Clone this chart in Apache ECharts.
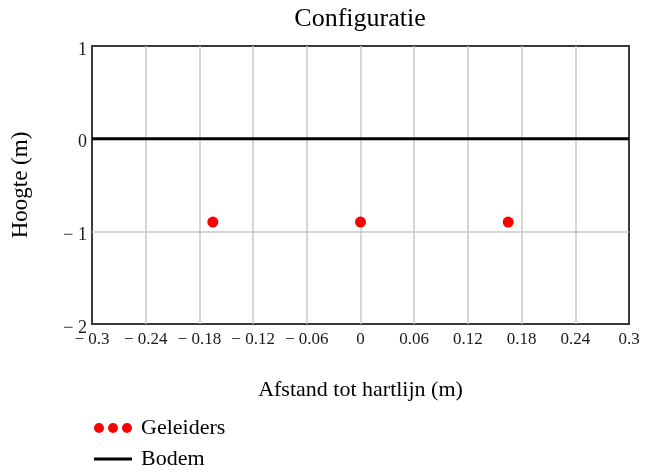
<!DOCTYPE html>
<html>
<head>
<meta charset="utf-8">
<script src="https://cdn.jsdelivr.net/npm/echarts@6/dist/echarts.min.js"></script>
<style>
  html, body { margin: 0; padding: 0; background: #fff; }
  #chart { width: 645px; height: 472px; }
</style>
</head>
<body>
<div id="chart"></div>
<script>
// Conductor positions (m) relative to the centre line
const geleidersX = [-0.165, 0, 0.165];
const geleidersY = [-0.9, -0.9, -0.9];
// Ground surface
const bodemX = [-0.3, 0.3];
const bodemY = [0, 0];

const xMin = -0.3, xMax = 0.3, xStep = 0.06;
const yMin = -2, yMax = 1, yStep = 1;

const FONT = '"Liberation Serif", "Times New Roman", serif';

function fmt(v) {
  const r = Math.round(v * 100) / 100;
  if (r === 0) return '0';
  return r < 0 ? '\u2212 ' + String(-r) : String(r);
}

// three dots side by side for the conductor legend entry
const threeDots = 'path://M0,5a5,5 0 1,0 10,0a5,5 0 1,0 -10,0z M14,5a5,5 0 1,0 10,0a5,5 0 1,0 -10,0z M28,5a5,5 0 1,0 10,0a5,5 0 1,0 -10,0z';

const legendText = { fontFamily: FONT, fontSize: 22, lineHeight: 24, color: '#000', padding: [0, 0, 0, 4] };

const chart = echarts.init(document.getElementById('chart'), null, { renderer: 'canvas' });
chart.setOption({
  animation: false,
  backgroundColor: '#fff',
  title: {
    text: 'Configuratie',
    left: 360, top: 6, textAlign: 'center', padding: 0,
    textStyle: { fontFamily: FONT, fontSize: 26, fontWeight: 'normal', color: '#000' }
  },
  legend: [
    {
      left: 94, top: 416, padding: 0,
      itemWidth: 38, itemHeight: 10,
      textStyle: legendText,
      data: [{ name: 'Geleiders', icon: threeDots }]
    },
    {
      left: 94, top: 447, padding: 0,
      itemWidth: 38, itemHeight: 3,
      textStyle: legendText,
      data: [{ name: 'Bodem', icon: 'rect' }]
    }
  ],
  grid: {
    left: 92, top: 46, width: 537, height: 278,
    show: true, borderColor: '#3a3a3a', borderWidth: 2, backgroundColor: 'transparent'
  },
  xAxis: {
    type: 'value', min: xMin, max: xMax, interval: xStep,
    name: 'Afstand tot hartlijn (m)', nameLocation: 'middle', nameGap: 55,
    nameTextStyle: { fontFamily: FONT, fontSize: 22, color: '#000' },
    axisLine: { show: false }, axisTick: { show: false },
    axisLabel: { fontFamily: FONT, fontSize: 17, color: '#1a1a1a', margin: 7, formatter: fmt },
    splitLine: { show: true, showMinLine: false, showMaxLine: false, lineStyle: { color: '#c8c8c8', width: 1.5 } }
  },
  yAxis: {
    type: 'value', min: yMin, max: yMax, interval: yStep,
    name: 'Hoogte (m)', nameLocation: 'middle', nameGap: 60, nameRotate: 90,
    nameTextStyle: { fontFamily: FONT, fontSize: 23, color: '#000' },
    axisLine: { show: false }, axisTick: { show: false },
    axisLabel: { fontFamily: FONT, fontSize: 18, color: '#1a1a1a', margin: 5, verticalAlign: 'top', lineHeight: 8, formatter: fmt },
    splitLine: { show: true, showMinLine: false, showMaxLine: false, lineStyle: { color: '#c8c8c8', width: 1.5 } }
  },
  series: [
    {
      name: 'Geleiders', type: 'scatter',
      data: geleidersX.map((x, i) => [x, geleidersY[i]]),
      symbol: 'circle', symbolSize: 11,
      itemStyle: { color: '#ff0000', opacity: 1 }
    },
    {
      name: 'Bodem', type: 'line',
      data: bodemX.map((x, i) => [x, bodemY[i]]),
      showSymbol: false, symbol: 'none',
      lineStyle: { color: '#000', width: 3 },
      itemStyle: { color: '#000' }
    }
  ]
});
</script>
</body>
</html>
